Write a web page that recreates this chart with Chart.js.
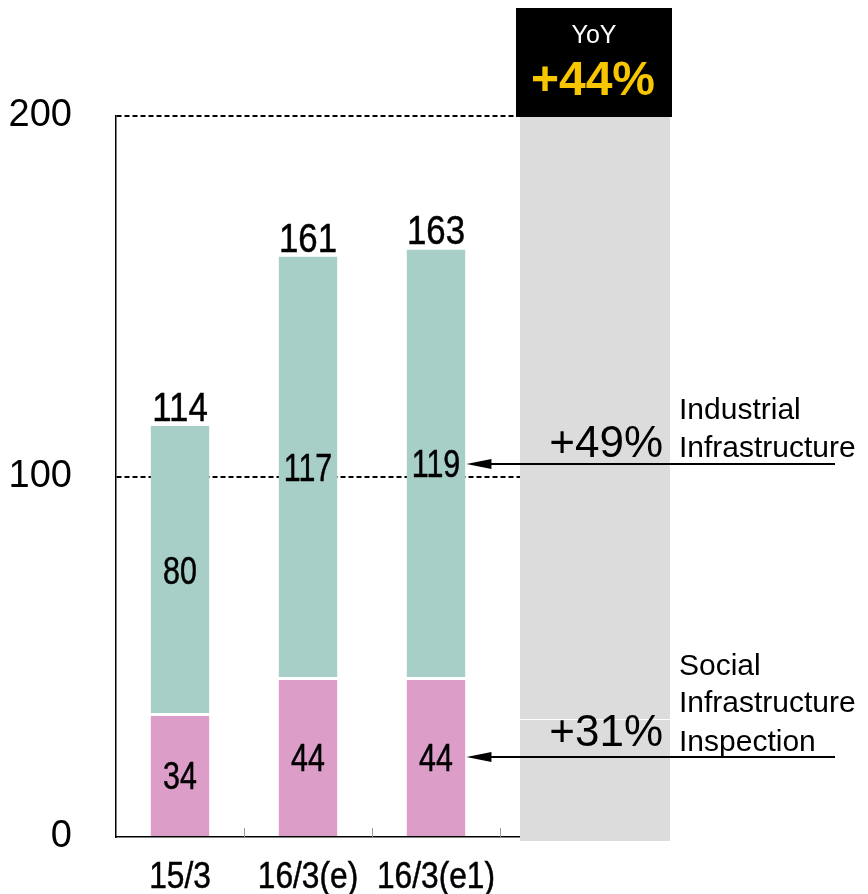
<!DOCTYPE html>
<html>
<head>
<meta charset="UTF-8">
<title>Infrastructure sales</title>
<script src="https://cdn.jsdelivr.net/npm/chart.js@4.4.0/dist/chart.umd.min.js"></script>
<style>
    body { margin: 0; background: #fff; }
    canvas { display: block; }
</style>
</head>
<body>
<canvas id="chart" width="868" height="894"></canvas>
<script>
const categories = ['15/3', '16/3(e)', '16/3(e1)', ''];
const socialValues = [34, 44, 44, null];
const industrialValues = [80, 117, 119, null];
const totalValues = [114, 161, 163];
const yMax = 200;
const yStep = 100;
const yoyTitle = 'YoY';
const yoyTotal = '+44%';
const yoyIndustrial = '+49%';
const yoySocial = '+31%';
const industrialName = ['Industrial', 'Infrastructure'];
const socialName = ['Social', 'Infrastructure', 'Inspection'];

const FONT = '"Liberation Sans", Arial, sans-serif';

// condensed, slightly heavier text for the numbers and categories
function narrowText(ctx, text, x, y, size, squeeze) {
    ctx.save();
    ctx.font = size + 'px ' + FONT;
    ctx.translate(x, y);
    ctx.scale(squeeze, 1);
    ctx.textAlign = 'center';
    ctx.textBaseline = 'alphabetic';
    ctx.fillStyle = '#000';
    ctx.strokeStyle = '#000';
    ctx.lineWidth = 0.5;
    ctx.fillText(text, 0, 0);
    ctx.strokeText(text, 0, 0);
    ctx.restore();
}

function plainText(ctx, text, x, y, font, color, align) {
    ctx.save();
    ctx.font = font;
    ctx.fillStyle = color;
    ctx.textAlign = align;
    ctx.textBaseline = 'alphabetic';
    ctx.fillText(text, x, y);
    ctx.restore();
}

function arrow(ctx, x1, x2, y) {
    ctx.save();
    ctx.strokeStyle = '#000';
    ctx.fillStyle = '#000';
    ctx.lineWidth = 2;
    ctx.beginPath();
    ctx.moveTo(x1, y);
    ctx.lineTo(x2 + 20, y);
    ctx.stroke();
    ctx.beginPath();
    ctx.moveTo(x2, y);
    ctx.lineTo(x2 + 25, y - 5);
    ctx.lineTo(x2 + 25, y + 5);
    ctx.closePath();
    ctx.fill();
    ctx.restore();
}

const slidePlugin = {
    id: 'slide',
    afterDraw(chart) {
        const ctx = chart.ctx;
        const x = chart.scales.x;
        const y = chart.scales.y;
        const y0 = y.getPixelForValue(0);
        const yTop = y.getPixelForValue(yMax);

        // small tick marks between categories
        ctx.save();
        ctx.strokeStyle = '#999';
        ctx.lineWidth = 1;
        for (let i = 0; i < 3; i++) {
            const bx = Math.round((x.getPixelForValue(i) + x.getPixelForValue(i + 1)) / 2) + 0.5;
            ctx.beginPath();
            ctx.moveTo(bx, y0 - 9);
            ctx.lineTo(bx, y0);
            ctx.stroke();
        }
        ctx.restore();

        // grey YoY column
        const edge = (x.getPixelForValue(2) + x.getPixelForValue(3)) / 2;
        const panelL = edge + 20;
        ctx.fillStyle = '#dcdcdc';
        ctx.fillRect(panelL, yTop, 150, y0 + 4 - yTop);
        ctx.fillStyle = '#fff';
        ctx.fillRect(panelL, y0 - 118, 150, 1);

        ctx.fillStyle = '#000';
        ctx.fillRect(panelL - 4, 8, 156, yTop + 1 - 8);
        plainText(ctx, yoyTitle, panelL + 74, 43, '25px ' + FONT, '#fff', 'center');
        plainText(ctx, yoyTotal, panelL + 73, 95, 'bold 48px ' + FONT, '#f7c600', 'center');

        // totals above the bars
        const top = chart.getDatasetMeta(1);
        const bottom = chart.getDatasetMeta(0);
        totalValues.forEach((v, i) => {
            narrowText(ctx, String(v), x.getPixelForValue(i), y.getPixelForValue(v) - 5, 41, 0.85);
        });

        // values inside the segments
        [bottom, top].forEach((meta, d) => {
            const vals = d === 0 ? socialValues : industrialValues;
            meta.data.forEach((el, i) => {
                if (vals[i] == null) return;
                const mid = (el.y + el.base) / 2;
                narrowText(ctx, String(vals[i]), el.x, mid + 13.5, 38, 0.8);
            });
        });

        // category labels
        categories.forEach((c, i) => {
            if (!c) return;
            narrowText(ctx, c, x.getPixelForValue(i), y0 + 51, 36, 0.88);
        });

        // arrows to the latest forecast
        const lastTop = top.data[2];
        const lastBottom = bottom.data[2];
        const tipX = lastTop.x + lastTop.width / 2 + 1;
        const upY = Math.round((lastTop.y + lastTop.base) / 2);
        const lowY = Math.round((lastBottom.y + lastBottom.base) / 2);
        arrow(ctx, 835, tipX, upY);
        arrow(ctx, 835, tipX, lowY);

        const growthFont = '44px ' + FONT;
        const nameFont = '30px ' + FONT;
        plainText(ctx, yoyIndustrial, 663, upY - 7, growthFont, '#000', 'right');
        plainText(ctx, industrialName[0], 679, upY - 45, nameFont, '#000', 'left');
        plainText(ctx, industrialName[1], 679, upY - 7, nameFont, '#000', 'left');

        plainText(ctx, yoySocial, 663, lowY - 11, growthFont, '#000', 'right');
        plainText(ctx, socialName[0], 679, lowY - 82, nameFont, '#000', 'left');
        plainText(ctx, socialName[1], 679, lowY - 45, nameFont, '#000', 'left');
        plainText(ctx, socialName[2], 679, lowY - 6, nameFont, '#000', 'left');
    }
};

new Chart(document.getElementById('chart'), {
    type: 'bar',
    data: {
        labels: categories,
        datasets: [
            {
                label: 'Social Infrastructure Inspection',
                data: socialValues,
                backgroundColor: '#dc9ec8',
                borderColor: '#fff',
                borderWidth: { top: 1.5, bottom: 0, left: 0, right: 0 },
                borderSkipped: false,
                barPercentage: 0.46,
                categoryPercentage: 1
            },
            {
                label: 'Industrial Infrastructure',
                data: industrialValues,
                backgroundColor: '#a7cfc7',
                borderColor: '#fff',
                borderWidth: { top: 0, bottom: 1.5, left: 0, right: 0 },
                borderSkipped: false,
                barPercentage: 0.46,
                categoryPercentage: 1
            }
        ]
    },
    options: {
        responsive: false,
        animation: false,
        layout: { padding: { top: 116, right: 240, left: 0, bottom: 0 } },
        plugins: {
            legend: { display: false },
            tooltip: { enabled: false }
        },
        scales: {
            x: {
                stacked: true,
                grid: { display: false },
                border: { display: true, color: '#000', width: 1.5 },
                ticks: { display: false },
                afterFit: s => { s.height = 57; }
            },
            y: {
                stacked: true,
                min: 0,
                max: yMax,
                ticks: {
                    stepSize: yStep,
                    padding: 0,
                    color: '#000',
                    font: { family: FONT, size: 38 }
                },
                grid: {
                    drawTicks: true,
                    tickLength: 44,
                    tickColor: 'rgba(0,0,0,0)',
                    lineWidth: 2,
                    color: c => c.tick && c.tick.value === 0 ? 'rgba(0,0,0,0)' : '#000'
                },
                border: { display: true, color: '#000', width: 1.5, dash: [5, 3] },
                afterFit: s => { s.width = 116; }
            }
        }
    },
    plugins: [slidePlugin]
});
</script>
</body>
</html>
